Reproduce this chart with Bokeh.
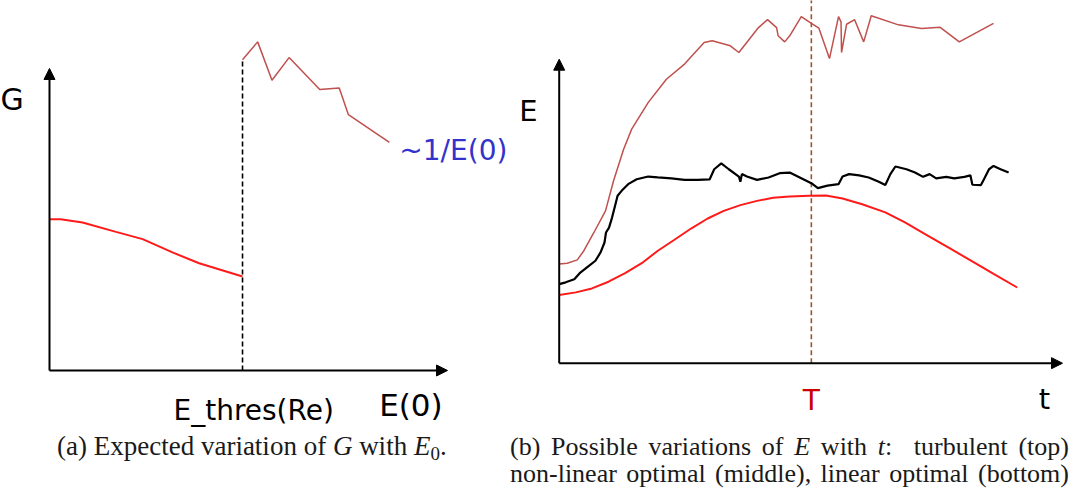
from bokeh.plotting import figure
from bokeh.models import Range1d, Arrow, NormalHead, Div
from bokeh.layouts import column, row
from bokeh.core.properties import value
from bokeh.embed import file_html
from bokeh.resources import INLINE

# ---------------- data (arbitrary schematic units: axis origin = 0, arrow tip = 100) -------------
# Panel (a): G versus E(0)
g_low_e0 = [0.0, 2.8, 8.3, 16.7, 23.4, 30.9, 37.6, 48.5]
g_low = [50.1, 50.1, 49.0, 45.9, 43.5, 39.1, 35.5, 31.1]
g_high_e0 = [48.5, 52.3, 55.9, 60.2, 67.9, 72.8, 75.1, 85.4]
g_high = [102.9, 108.8, 96.1, 103.6, 93.0, 93.5, 84.7, 75.5]
e_thres = 48.5

# Panel (b): E versus t
top_t = [0.0, 1.6, 3.6, 4.9, 6.9, 9.2, 10.8, 12.8, 14.4, 17.7, 21.3, 24.9, 28.8, 30.4,
         34.0, 35.7, 39.6, 41.4, 43.2, 43.5, 44.8, 45.8, 48.1, 50.1, 51.6, 53.7, 55.5,
         56.0, 56.1, 57.1, 58.7, 60.5, 62.0, 67.4, 72.0, 75.7, 79.5, 86.3]
top_E = [32.6, 32.9, 34.0, 37.0, 43.0, 50.1, 60.0, 70.4, 77.0, 85.8, 93.4, 98.4, 105.5, 106.1,
         104.4, 102.2, 110.4, 113.0, 110.4, 107.7, 105.7, 107.7, 114.0, 111.8, 110.2, 100.2, 114.0,
         112.3, 102.2, 111.5, 113.0, 105.7, 114.3, 111.3, 110.1, 110.5, 105.7, 111.8]

mid_t = [0.0, 1.3, 3.0, 4.2, 5.9, 7.2, 8.2, 9.0, 9.3, 9.9, 10.5, 11.1, 11.6, 12.4, 13.7, 15.4,
         17.7, 19.6, 22.3, 24.9, 27.5, 29.9, 30.8, 32.2, 33.7, 35.7, 36.0, 36.3, 37.3, 39.3,
         41.6, 43.8, 45.8, 47.8, 50.1, 51.4, 53.3, 55.5, 56.3, 57.6, 59.6, 61.5, 63.5, 64.8,
         65.8, 66.8, 69.0, 70.7, 72.3, 73.6, 74.9, 76.9, 78.5, 80.5, 81.7, 82.1, 83.8, 84.4,
         85.4, 86.3, 87.7, 89.3]
mid_E = [26.0, 26.6, 27.6, 29.8, 32.0, 33.7, 36.4, 39.7, 43.0, 44.6, 47.9, 51.8, 55.1, 56.7,
         58.9, 60.5, 61.4, 61.1, 60.8, 60.3, 60.3, 60.5, 63.8, 65.7, 63.8, 61.4, 59.7, 62.2,
         61.4, 60.3, 61.1, 62.5, 62.7, 61.1, 59.2, 57.6, 58.4, 58.9, 61.4, 62.2, 61.8, 61.1,
         59.7, 58.6, 62.2, 64.7, 63.8, 62.7, 61.3, 62.2, 60.8, 61.3, 60.8, 61.3, 61.8, 58.7,
         58.6, 60.5, 63.8, 64.9, 63.8, 62.7]

low_t = [0.0, 3.3, 6.5, 9.8, 13.1, 16.4, 19.6, 22.9, 26.2, 29.5, 32.7, 36.0, 39.3, 42.5,
         45.8, 49.7, 53.0, 56.3, 60.2, 64.8, 68.7, 73.3, 77.9, 82.5, 86.4, 91.0]
low_E = [22.4, 23.3, 24.6, 26.8, 29.6, 32.9, 37.0, 40.6, 44.3, 47.6, 50.1, 52.0, 53.4, 54.4,
         54.8, 55.1, 55.2, 54.2, 52.3, 49.6, 46.3, 41.9, 37.5, 33.1, 29.3, 24.9]
t_opt = 50.1

labels_a = ["G", "~1/E(0)", "E_thres(Re)", "E(0)"]
labels_b = ["E", "T", "t"]

FONT = value("DejaVu Sans")


def make_fig(w, h, xr, yr):
    p = figure(width=w, height=h, x_range=Range1d(*xr), y_range=Range1d(*yr),
               output_backend="svg", toolbar_location=None,
               x_axis_location=None, y_axis_location=None, min_border=0)
    p.grid.grid_line_color = None
    p.outline_line_color = None
    p.background_fill_color = "white"
    p.border_fill_color = "white"
    return p


def axes_arrows(p):
    for xe, ye in ((100, 0), (0, 100)):
        p.add_layout(Arrow(end=NormalHead(size=11, fill_color="black", line_color="black", line_width=1),
                           x_start=0, y_start=0, x_end=xe, y_end=ye,
                           line_color="black", line_width=2))


# ---------------- panel (a) ----------------
pa = make_fig(512, 428, (-12.31, 116.33), (-19.21, 122.5))
axes_arrows(pa)
pa.segment(x0=[e_thres], y0=[0], x1=[e_thres], y1=[g_high[0]],
           line_color="black", line_width=1.6, line_dash="5 3")
pa.line(g_low_e0, g_low, line_color="#ff1a1a", line_width=2)
pa.line(g_high_e0, g_high, line_color="#c0504d", line_width=1.5)
pa.text(x=[-9.4], y=[89.7], text=[labels_a[0]], text_font=FONT, text_font_size=value("30px"),
        text_align="center", text_baseline="alphabetic", text_color="black")
pa.text(x=[87.9], y=[72.9], text=[labels_a[1]], text_font=FONT, text_font_size=value("28px"),
        text_align="left", text_baseline="alphabetic", text_color="#3333cc")
pa.text(x=[51.3], y=[-13.3], text=[labels_a[2]], text_font=FONT, text_font_size=value("28px"),
        text_align="center", text_baseline="alphabetic", text_color="black")
pa.text(x=[90.8], y=[-11.3], text=[labels_a[3]], text_font=FONT, text_font_size=value("31px"),
        text_align="center", text_baseline="alphabetic", text_color="black")

# ---------------- panel (b) ----------------
pb = make_fig(552, 428, (-9.28, 100.40), (-21.48, 119.31))
axes_arrows(pb)
pb.segment(x0=[t_opt], y0=[0], x1=[t_opt], y1=[125],
           line_color="#a0522d", line_width=1.6, line_dash="5 3")
pb.line(top_t, top_E, line_color="#c0504d", line_width=1.5)
pb.line(mid_t, mid_E, line_color="black", line_width=2.2)
pb.line(low_t, low_E, line_color="#ff1a1a", line_width=2)
pb.text(x=[-6.1], y=[83.1], text=[labels_b[0]], text_font=FONT, text_font_size=value("29px"),
        text_align="center", text_baseline="alphabetic", text_color="black")
pb.text(x=[t_opt], y=[-12.3], text=[labels_b[1]], text_font=FONT, text_font_size=value("28px"),
        text_align="center", text_baseline="alphabetic", text_color="#cc0000")
pb.text(x=[96.4], y=[-11.9], text=[labels_b[2]], text_font=FONT, text_font_size=value("29px"),
        text_align="center", text_baseline="alphabetic", text_color="black")

# ---------------- captions ----------------
html = """
<div style="position:relative;width:1064px;height:55px;
            font-family:'Liberation Serif',serif;color:#1a1a1a;line-height:27px;">
  <div style="position:absolute;left:52px;top:0px;white-space:nowrap;font-size:27px;">
    (a) Expected variation of <i>G</i> with <i>E</i><span style="font-size:19px;position:relative;top:5px;">0</span>.
  </div>
  <div style="position:absolute;left:505px;top:0px;width:559px;font-size:26px;
              text-align:justify;text-align-last:justify;">
    (b) Possible variations of <i>E</i> with <i>t</i>:&nbsp; turbulent (top)<br>
    non-linear optimal (middle), linear optimal (bottom)
  </div>
</div>
"""
cap = Div(text=html, width=1064, height=55)

layout = column(row(pa, pb), cap)
open("out.html", "w").write(file_html(layout, INLINE))
